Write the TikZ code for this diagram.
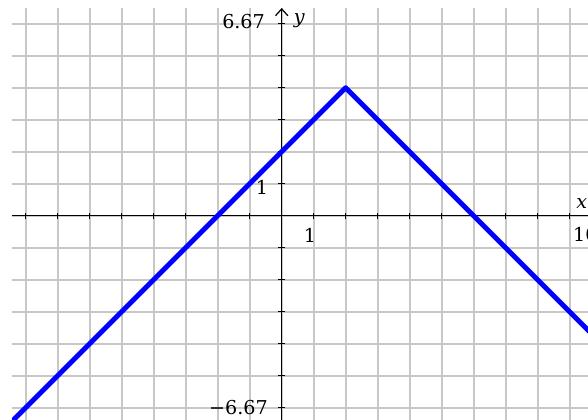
\documentclass[tikz,border=0pt]{standalone}
\usepackage{fontspec}
\setmainfont{DejaVu Serif}
\usetikzlibrary{arrows.meta}
\definecolor{gridgray}{RGB}{200,200,200}
\definecolor{graphblue}{RGB}{0,0,255}
\begin{document}
\begin{tikzpicture}[x=1cm,y=1cm,
  gridline/.style={draw=gridgray, line width=1.6pt},
  axisline/.style={draw=black, line width=1.1pt},
  tickmark/.style={draw=black, line width=0.9pt},
  graphline/.style={draw=graphblue, line width=4.4pt, line join=round},
  lbl/.style={font=\fontsize{17}{19}\selectfont, inner sep=0pt}]
\useasboundingbox[fill=white] (-8.803,-6.353) rectangle (9.572,6.741);
% grid
\begin{scope}
  \clip (-8.43,-6.353) rectangle (9.572,6.49);
  \foreach \i in {-8,...,9} \draw[gridline] (\i,-6.5) -- (\i,6.6);
  \foreach \j in {-6,...,6} \draw[gridline] (-8.6,\j) -- (9.7,\j);
\end{scope}
% axes
\coordinate (xl) at (-8.43,0);
\coordinate (xr) at (9.7,0);
\coordinate (yb) at (0,-6.5);
\coordinate (yt) at (0,6.49);
\draw[axisline] (xl) -- (xr);
\draw[axisline, -{Straight Barb[length=6pt,width=11pt]}] (yb) -- (yt);
\foreach \i in {-8,...,9} \draw[tickmark] (\i,-0.1) -- (\i,0.1);
\foreach \j in {-6,...,6} \draw[tickmark] (-0.1,\j) -- (0.1,\j);
% graph
\begin{scope}
  \clip (-8.43,-6.353) rectangle (9.572,6.49);
  \coordinate (gl) at (-9.5,-7.5);
  \coordinate (gp) at (2,4);
  \coordinate (gr) at (10.5,-4.5);
  \draw[graphline] (gl) -- (gp) -- (gr);
\end{scope}
% labels
\node[lbl, anchor=east] (ymax) at (-0.52,6.08) {6.67};
\node[lbl, anchor=east] (ymin) at (-0.43,-5.98) {−6.67};
\node[lbl] (ylab) at (0.55,6.08) {\itshape y};
\node[lbl] (yone) at (-0.62,0.9) {1};
\node[lbl] (xone) at (0.88,-0.63) {1};
\node[lbl] (xlab) at (9.38,0.38) {\itshape x};
\node[lbl, anchor=west] (xmax) at (9.1,-0.6) {10};
\end{tikzpicture}
\end{document}
